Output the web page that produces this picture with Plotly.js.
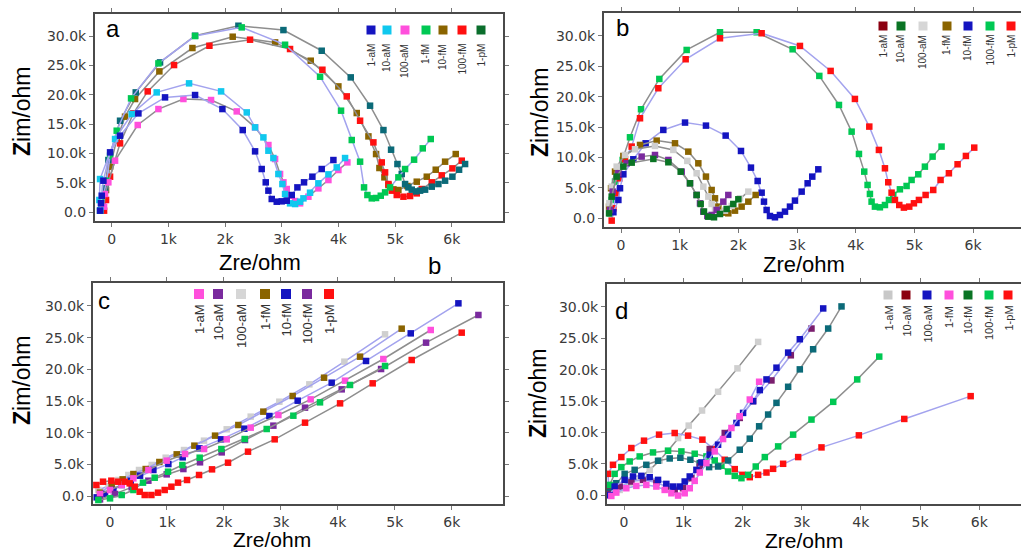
<!DOCTYPE html>
<html><head><meta charset="utf-8">
<script src="https://cdn.plot.ly/plotly-3.0.1.min.js"></script>
<style>html,body{margin:0;padding:0;background:#fff}#chart{width:1021px;height:554px}</style>
</head><body><div id="chart"></div>
<script>
// ---------- tick labels ----------
const xTickVals = [0,1000,2000,3000,4000,5000,6000];
const xTickText = ['0','1k','2k','3k','4k','5k','6k'];
const yTickVals = [0,5000,10000,15000,20000,25000,30000];
const yTickText = ['0.0','5.0k','10.0k','15.0k','20.0k','25.0k','30.0k'];
const seriesLabels = ['1-aM','10-aM','100-aM','1-fM','10-fM','100-fM','1-pM'];

// ---------- panel a ----------
const a_1aM_x = [-206,-190,-176,-147,-29,147,471,941,1471,1953,2312,2530,2647,2718,2765,2824,2912,3000,3089,3177,3277,3394,3541,3706,3912];
const a_1aM_y = [230,1500,2780,5340,10170,13010,16810,19540,19940,17550,13970,10340,7330,5060,3640,2220,1760,1820,1930,2900,4200,5060,6020,7330,8860];
const a_10aM_x = [-200,-218,-206,59,353,794,1365,1930,2383,2530,2677,2765,2853,2941,3012,3059,3089,3147,3236,3324,3383,3500,3647,3824,3971,4118];
const a_10aM_y = [300,2050,5620,12440,16700,20390,21930,20560,16980,14430,12720,10450,9200,6480,4770,3070,1930,1480,1360,1760,2330,3290,4890,6420,7610,9200];
const a_100aM_x = [-135,-118,-59,59,459,824,1265,1753,2206,2530,2765,2883,2971,3030,3089,3147,3236,3324,3471,3647,3824,4000,4159];
const a_100aM_y = [910,3070,5060,8750,14830,17550,19260,19090,17150,14430,11420,9030,6480,5060,3920,2780,1870,1480,2610,4030,5450,7160,8460];
const a_1fM_x = [-206,-176,-88,-29,88,341,824,1471,2294,3059,3677,4047,4236,4383,4453,4512,4589,4665,4748,4824,4912,5059,5177,5336,5489,5630];
const a_1fM_y = [230,1650,5340,9600,13860,19370,25330,29990,31470,28510,23060,17270,12270,8580,4200,2900,2330,2390,2780,3350,4200,5910,7330,8920,10850,12440];
const a_10fM_x = [-147,-100,-29,88,235,412,841,1424,2135,2883,3512,4000,4324,4530,4665,4724,4812,4883,4971,5059,5218,5383,5560,5718,5883,6071];
const a_10fM_y = [630,3750,7730,12270,16250,19260,23970,27950,29880,28910,25790,21410,16870,12890,9880,7500,5910,4600,3860,3750,4430,5170,6020,7210,8580,9880];
const a_100fM_x = [-135,-100,-29,147,382,635,1100,1724,2441,3147,3718,4148,4383,4618,4765,4824,4883,4942,5030,5148,5265,5383,5471,5648,5824,6012,6177];
const a_100fM_y = [230,2050,6020,11700,16810,20560,25050,28340,29370,27780,24250,19710,15560,11870,8460,6760,4770,3640,2900,2610,2730,3180,3920,5060,6250,7440,8750];
const a_1pM_x = [-176,-118,-59,147,424,853,1471,2236,3030,3706,4218,4559,4795,4930,5042,5118,5177,5236,5295,5371,5442,5530,5648,5765,5883,6012,6130,6236];
const a_1pM_y = [910,4030,8860,15560,20390,25500,30050,31750,31010,27490,22950,18120,13970,10620,8180,6480,4770,4200,3810,3520,3640,3810,4320,4770,5340,6020,7210,8180];

// ---------- panel b ----------
const b_1aM_x = [-187,-142,-45,97,352,579,807,1034,1176,1289,1346,1403,1471,1545,1630,1744,1829];
const b_1aM_y = [1370,4390,7410,9050,10150,10420,9600,7680,5760,3840,2470,1100,380,550,1370,2740,3840];
const b_10aM_x = [-204,-159,-74,40,182,551,807,1017,1176,1289,1358,1414,1488,1585,1687,1801,1914,2000];
const b_10aM_y = [820,3570,6860,8500,9160,9770,9220,7680,5760,3840,2360,1100,270,170,710,1540,2360,3130];
const b_100aM_x = [-199,-159,-74,68,239,579,892,1130,1289,1403,1488,1545,1602,1676,1772,1886,2028,2170];
const b_100aM_y = [2470,5210,8500,10420,11360,11910,11250,9440,7410,5210,3570,2360,1370,930,1260,2030,3290,4390];
const b_1fM_x = [-204,-170,-102,40,324,608,920,1147,1318,1448,1545,1602,1659,1732,1829,1943,2056,2170,2295];
const b_1fM_y = [1920,4940,7680,10260,12070,12780,12340,10970,9050,6860,4660,3290,1920,930,820,1260,1920,2740,3840];
const b_10fM_x = [-130,-45,-17,40,210,420,721,1091,1448,1784,2045,2215,2329,2397,2437,2482,2539,2624,2709,2795,2880,2965,3079,3181,3260,3363];
const b_10fM_y = [1000,3020,4940,7240,9710,12340,14540,15750,15250,13610,11080,8340,6140,4220,2740,1370,380,170,550,1100,1920,2910,4390,5760,6860,8060];
const b_100fM_x = [-187,-159,-102,28,153,341,653,1119,1687,2312,2925,3380,3715,3931,4056,4146,4203,4243,4271,4328,4413,4499,4567,4641,4754,4868,4953,5067,5180,5311,5464];
const b_100fM_y = [820,3020,6040,9600,13330,17940,22930,27700,30610,30610,27810,23430,18650,14260,10590,7680,5490,4010,2740,1920,1810,2190,3020,3840,4770,5320,6310,7240,8500,10150,11800];
const b_1pM_x = [-159,-131,-85,-28,68,182,324,636,1102,1687,2397,3050,3573,3987,4232,4396,4499,4555,4612,4669,4743,4822,4913,4993,5078,5192,5322,5447,5589,5737,5879,6021];
const b_1pM_y = [-380,1650,4120,6580,9710,11800,16460,21400,26170,29620,30450,28360,24250,19640,15090,11250,8230,5930,4220,3020,2190,1760,1920,2470,3020,3840,4660,6310,7410,8890,10260,11630];

// ---------- panel c ----------
const c_1aM_x = [-176,0,205,410,673,995,1317,1651,2049,2470,2956,3523,4126,4799,5631];
const c_1aM_y = [320,950,1740,2790,4110,5580,6630,7420,8950,10790,12790,15260,18210,21630,26210];
const c_100fM_x = [-176,88,380,673,995,1288,1580,1961,2370,2868,3424,4068,4759,5549,6468];
const c_100fM_y = [-530,320,1370,2420,3420,4260,5320,6890,8840,11110,13950,16840,20050,24210,28580];
const c_100aM_x = [-205,-29,146,322,509,732,977,1299,1650,2049,2470,2973,3500,4115,4829];
const c_100aM_y = [950,1580,2530,3320,4110,4900,6050,7260,8740,10530,12530,14890,17630,21210,25530];
const c_1fM_x = [-176,29,222,410,626,866,1171,1481,1844,2253,2692,3207,3758,4390,5121];
const c_1fM_y = [530,1740,2630,3470,4260,5370,6580,7950,9530,11210,13320,15790,18680,22000,26420];
const c_10fM_x = [-234,-88,59,205,363,527,761,1024,1276,1569,1949,2359,2798,3295,3892,4495,5280,6117];
const c_10fM_y = [-210,320,950,1740,2420,3210,4110,5050,6110,7530,8950,10630,12630,15050,17890,21320,25680,30420];
const c_green_x = [-205,0,205,410,579,784,1018,1270,1574,1955,2365,2751,3219,3687,4214,4829];
const c_green_y = [-630,-370,160,950,2110,2890,3840,4890,6050,7420,9000,10580,12680,14790,17530,20530];
const c_1pM_x = [-240,-123,23,140,258,345,433,521,609,726,843,960,1077,1194,1352,1563,1791,2072,2423,2891,3424,4039,4612,5297,6175];
const c_1pM_y = [1740,2260,2420,2260,2260,2000,1470,680,160,160,530,950,1470,2110,2530,3320,4210,5260,7000,8950,11580,14630,17790,21470,25790];

// ---------- panel d ----------
const d_1aM_x = [-242,-73,96,265,434,603,744,913,1093,1318,1589,1916,2265];
const d_1aM_y = [0,850,1920,2720,4050,5540,7090,9110,11090,13490,16470,20200,24410];
const d_10aM_x = [-242,-73,124,321,546,715,856,997,1138,1279,1448,1701,1955,2180,2490,2817,3166];
const d_10aM_y = [210,1390,2190,2450,2030,1390,850,1120,2720,4580,7360,9910,12310,14980,18280,22280,26540];
const d_100aM_x = [-242,-158,11,152,293,434,575,715,828,941,1025,1110,1223,1307,1448,1589,1758,1899,2011,2180,2293,2406,2575,2772,2969,3364];
const d_100aM_y = [0,1390,2450,2990,3090,2880,2450,1810,1390,1390,2190,2990,4050,5220,6450,8050,9650,11510,13110,14980,16740,18440,20310,22710,24840,29740];
const d_1fM_x = [-214,-130,39,208,377,546,687,800,913,1025,1110,1194,1279,1392,1532,1673,1814,1955,2124,2282];
const d_1fM_y = [-110,430,1120,1490,1650,1390,850,320,-50,320,1120,2290,3620,5120,6980,8950,10710,12580,15240,18070];
const d_10fM_x = [-242,-130,11,180,377,575,772,952,1121,1279,1437,1589,1758,1955,2124,2282,2434,2575,2772,2969,3194,3448,3673];
const d_10fM_y = [590,1920,3410,4050,4850,5490,5860,5970,5650,5120,4480,4580,5540,7250,9010,10980,12850,14710,17270,20040,23240,26540,30060];
const d_100fM_x = [-242,-158,-45,96,265,490,744,969,1194,1392,1532,1645,1758,1870,1983,2096,2225,2378,2603,2856,3166,3533,3938,4310];
const d_100fM_y = [1650,3410,4480,5380,6180,6820,7090,6980,6610,6180,5540,4690,3780,3090,2720,3250,4580,6080,7780,9650,12050,14870,18440,22070];
const d_1pM_x = [-254,-270,-186,-45,124,338,592,856,1082,1324,1516,1701,1870,2000,2124,2265,2406,2518,2687,2941,3335,3966,4733,5854];
const d_1pM_y = [850,3410,4850,6080,7520,8690,9650,9910,9490,8850,7360,5650,4160,3250,2880,3250,3620,4210,5010,6080,7620,9540,12150,15780];

// ---------- styles ----------
const GRAY = '#8e8e8e', LAV = '#a3a3ee';
const C = {blue:'#1414c0', cyan:'#10c8ee', pink:'#ff4fdc', green:'#00c853', olive:'#8a6400',
           red:'#ff1010', teal:'#0b6a78', dkgreen:'#0a7424', purple:'#7a2a9e', lgray:'#cfcfcf',
           maroon:'#8b0010', plum:'#7a1e6e'};

function tr(x, y, col, lc, ax, name){
  return {x:x, y:y, type:'scatter', mode:'lines+markers', name:name,
    xaxis:'x'+ax, yaxis:'y'+ax, cliponaxis:true,
    line:{color:lc, width:1.5},
    marker:{symbol:'square', size:6.5, color:col, line:{width:0}}};
}
const data = [
  tr(a_10fM_x,a_10fM_y,C.olive,GRAY,'','10-fM'),
  tr(a_100fM_x,a_100fM_y,C.red,GRAY,'','100-fM'),
  tr(a_1pM_x,a_1pM_y,C.teal,GRAY,'','1-pM'),
  tr(a_1fM_x,a_1fM_y,C.green,LAV,'','1-fM'),
  tr(a_100aM_x,a_100aM_y,C.pink,GRAY,'','100-aM'),
  tr(a_10aM_x,a_10aM_y,C.cyan,LAV,'','10-aM'),
  tr(a_1aM_x,a_1aM_y,C.blue,LAV,'','1-aM'),

  tr(b_100fM_x,b_100fM_y,C.green,GRAY,'2','100-fM'),
  tr(b_1pM_x,b_1pM_y,C.red,LAV,'2','1-pM'),
  tr(b_10fM_x,b_10fM_y,C.blue,LAV,'2','10-fM'),
  tr(b_1fM_x,b_1fM_y,C.olive,GRAY,'2','1-fM'),
  tr(b_100aM_x,b_100aM_y,C.lgray,GRAY,'2','100-aM'),
  tr(b_1aM_x,b_1aM_y,C.purple,GRAY,'2','1-aM'),
  tr(b_10aM_x,b_10aM_y,C.dkgreen,GRAY,'2','10-aM'),

  tr(c_100aM_x,c_100aM_y,C.lgray,LAV,'3','100-aM'),
  tr(c_1fM_x,c_1fM_y,C.olive,LAV,'3','1-fM'),
  tr(c_10fM_x,c_10fM_y,C.blue,LAV,'3','10-fM'),
  tr(c_1aM_x,c_1aM_y,C.pink,GRAY,'3','1-aM'),
  tr(c_100fM_x,c_100fM_y,C.purple,GRAY,'3','100-fM'),
  tr(c_green_x,c_green_y,C.green,GRAY,'3','green'),
  tr(c_1pM_x,c_1pM_y,C.red,GRAY,'3','1-pM'),

  tr(d_1aM_x,d_1aM_y,C.lgray,GRAY,'4','1-aM'),
  tr(d_1pM_x,d_1pM_y,C.red,LAV,'4','1-pM'),
  tr(d_100fM_x,d_100fM_y,C.green,GRAY,'4','100-fM'),
  tr(d_10fM_x,d_10fM_y,C.teal,GRAY,'4','10-fM'),
  tr(d_10aM_x,d_10aM_y,C.plum,LAV,'4','10-aM'),
  tr(d_100aM_x,d_100aM_y,C.blue,LAV,'4','100-aM'),
  tr(d_1fM_x,d_1fM_y,C.pink,LAV,'4','1-fM')
];

const W = 1021, H = 554;
const px = v => v / W, py = v => 1 - v / H;
function xax(dom, rng, anchor){
  return {domain:dom, range:rng, anchor:anchor, tickmode:'array', tickvals:xTickVals, ticktext:xTickText,
    showgrid:false, zeroline:false, showline:true, linecolor:'#4a4a4a', linewidth:2, mirror:'ticks',
    ticks:'outside', ticklen:4, tickcolor:'#777', tickwidth:1,
    tickfont:{family:'DejaVu Sans', size:14, color:'#3a3a3a'}};
}
function yax(dom, rng, anchor, mir){
  return {domain:dom, range:rng, anchor:anchor, tickmode:'array', tickvals:yTickVals, ticktext:yTickText,
    showgrid:false, zeroline:false, showline:true, linecolor:'#4a4a4a', linewidth:2, mirror:mir,
    ticks:'outside', ticklen:4, tickcolor:'#777', tickwidth:1,
    tickfont:{family:'DejaVu Sans', size:14, color:'#3a3a3a'}};
}

const annotations = [], shapes = [];
function txt(x, y, t, size, angle, extra){
  annotations.push(Object.assign({xref:'paper', yref:'paper', x:px(x), y:py(y), text:t, showarrow:false,
    textangle:angle||0, xanchor:'center', yanchor:'middle', borderpad:0,
    font:{family:'Liberation Sans, Arial', size:size, color:'#000'}}, extra||{}));
}
// axis titles
[[260,262,22],[804,264,22],[272,539,21],[804,540,21]].forEach(p => txt(p[0], p[1], 'Zre/ohm', p[2], 0));
[[22,112],[540,113],[22,381],[538,394]].forEach(p => txt(p[0], p[1], '<b>Z</b>im/ohm', 23, -90));
// panel letters
txt(113,29,'a',24); txt(622,27,'b',24); txt(104,300,'c',24); txt(621,310,'d',24); txt(434,265,'b',24);

// legends
function legend(xs, sqY, sqSize, textTop, fsize, colors){
  xs.forEach((cx, i) => {
    shapes.push({type:'rect', xref:'paper', yref:'paper', x0:px(cx - sqSize/2), x1:px(cx + sqSize/2),
      y0:py(sqY + sqSize/2), y1:py(sqY - sqSize/2), fillcolor:colors[i], line:{width:0}});
    txt(cx, textTop, seriesLabels[i], fsize, -90, {yanchor:'top', font:{family:'Liberation Sans, Arial', size:fsize, color:'#333'}});
  });
}
legend([371,387,405,426,443,462,481], 30, 9, 43, 10,
  [C.blue,C.cyan,C.pink,C.green,C.olive,C.red,'#0a6e2c']);
legend([883,901,923,947,968,990,1011], 26, 9, 34, 10,
  [C.maroon,C.dkgreen,'#d6d6d6',C.olive,C.blue,C.green,C.red]);
legend([199,218,241,265,286,307,329], 294, 10, 303, 13,
  [C.pink,C.purple,'#d6d6d6',C.olive,C.blue,C.purple,C.red]);
legend([888,906,927,949,968,989,1008], 295, 9, 305, 11,
  ['#c8c8c8',C.maroon,C.blue,C.pink,C.dkgreen,C.green,C.red]);

const layout = {
  width:W, height:H, margin:{l:0, r:0, t:0, b:0}, showlegend:false,
  paper_bgcolor:'#fff', plot_bgcolor:'#fff',
  xaxis: xax([px(95), px(503)], [-295, 6905], 'y'),
  yaxis: yax([py(221), py(14)], [-1530, 33750], 'x', 'ticks'),
  xaxis2: xax([px(604), 1], [-290, 6818], 'y2'),
  yaxis2: yax([py(227), py(13)], [-1430, 33780], 'x2', false),
  xaxis3: xax([px(93), px(503)], [-299, 6900], 'y3'),
  yaxis3: yax([py(504), py(283)], [-1260, 33630], 'x3', 'ticks'),
  xaxis4: xax([px(607), 1], [-287, 6704], 'y4'),
  yaxis4: yax([py(504), py(284)], [-1390, 33630], 'x4', false),
  annotations: annotations, shapes: shapes
};
Plotly.newPlot('chart', data, layout, {displayModeBar:false, staticPlot:true});
</script></body></html>
